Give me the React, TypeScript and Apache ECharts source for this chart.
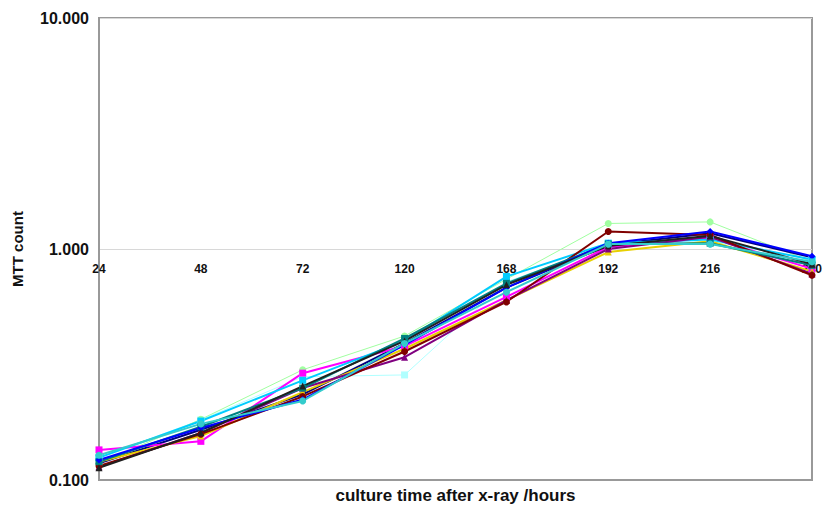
import React, { useEffect, useRef } from "react";
import * as echarts from "echarts";

const categories = ["24", "48", "72", "120", "168", "192", "216", "240"];

const navy = [0.118, 0.165, 0.235, 0.39, 0.68, 1.04, 1.17, 0.92];
const magenta = [0.135, 0.147, 0.29, 0.38, 0.62, 1.02, 1.12, 0.82];
const yellow = [0.12, 0.155, 0.24, 0.37, 0.6, 0.97, 1.08, 0.8];
const cyan = [0.125, 0.18, 0.27, 0.4, 0.76, 1.06, 1.1, 0.9];
const purple = [0.114, 0.16, 0.25, 0.34, 0.6, 1.0, 1.13, 0.78];
const maroon = [0.115, 0.158, 0.23, 0.36, 0.59, 1.19, 1.15, 0.77];
const teal = [0.12, 0.17, 0.25, 0.41, 0.71, 1.05, 1.06, 0.85];
const blue = [0.122, 0.168, 0.223, 0.385, 0.68, 1.06, 1.19, 0.93];
const lightGreen = [0.118, 0.183, 0.3, 0.42, 0.74, 1.29, 1.31, 0.88];
const lightCyan = [0.125, 0.182, 0.28, 0.285, 0.72, 1.04, 1.08, 0.9];
const black = [0.113, 0.16, 0.255, 0.4, 0.7, 1.03, 1.14, 0.86];
const skyBlue = [0.128, 0.175, 0.22, 0.39, 0.65, 1.05, 1.05, 0.88];

const seriesDefs = [
  { name: "s10", data: lightCyan, color: "#B0FFFF", symbol: "rect", width: 1 },
  { name: "s9", data: lightGreen, color: "#A0FFA0", symbol: "circle", width: 1 },
  { name: "s1", data: navy, color: "#000080", symbol: "diamond", width: 2 },
  { name: "s2", data: magenta, color: "#FF00FF", symbol: "rect", width: 2 },
  { name: "s3", data: yellow, color: "#E8D000", symbol: "triangle", width: 2 },
  { name: "s4", data: cyan, color: "#00CCFF", symbol: "rect", width: 2 },
  { name: "s5", data: purple, color: "#800080", symbol: "triangle", width: 2 },
  { name: "s6", data: maroon, color: "#800000", symbol: "circle", width: 2 },
  { name: "s7", data: teal, color: "#008080", symbol: "rect", width: 2 },
  { name: "s8", data: blue, color: "#0000FF", symbol: "diamond", width: 2 },
  { name: "s11", data: black, color: "#202020", symbol: "triangle", width: 2 },
  { name: "s12", data: skyBlue, color: "#33CCCC", symbol: "circle", width: 2 },
];

export default function App() {
  const ref = useRef<HTMLDivElement>(null);
  useEffect(() => {
    document.body.style.margin = "0";
    if (!ref.current) return;
    const chart = echarts.init(ref.current, null, { renderer: "svg" });
    const font = "'Liberation Sans', Arial, sans-serif";
    chart.setOption({
      animation: false,
      backgroundColor: "#ffffff",
      grid: {
        left: 99,
        right: 5,
        top: 18,
        bottom: 26,
        show: true,
        borderColor: "#999999",
        borderWidth: 2,
      },
      xAxis: {
        type: "category",
        data: categories,
        boundaryGap: false,
        z: 3,
        axisLine: { show: true, lineStyle: { color: "#999999", width: 2 } },
        axisTick: { show: false },
        splitLine: { show: false },
        axisLabel: {
          margin: -217,
          fontFamily: font,
          fontWeight: "bold",
          fontSize: 12,
          color: "#111111",
          interval: 0,
        },
        name: "culture time after x-ray /hours",
        nameLocation: "middle",
        nameGap: 7,
        nameTextStyle: {
          fontFamily: font,
          fontWeight: "bold",
          fontSize: 17,
          color: "#111111",
          verticalAlign: "top",
        },
      },
      yAxis: {
        type: "log",
        logBase: 10,
        min: 0.1,
        max: 10,
        axisLine: { show: true, lineStyle: { color: "#999999", width: 2 } },
        axisTick: { show: false },
        splitLine: { show: true, lineStyle: { color: "#d8d8d8", width: 1 } },
        axisLabel: {
          formatter: (v: number) => v.toFixed(3),
          fontFamily: font,
          fontWeight: "bold",
          fontSize: 16,
          color: "#111111",
          margin: 10,
        },
        name: "MTT count",
        nameLocation: "middle",
        nameGap: 74,
        nameTextStyle: {
          fontFamily: font,
          fontWeight: "bold",
          fontSize: 15,
          color: "#111111",
        },
      },
      series: seriesDefs.map((s) => ({
        name: s.name,
        type: "line",
        data: s.data,
        symbol: s.symbol,
        symbolSize: 7,
        lineStyle: { color: s.color, width: s.width },
        itemStyle: { color: s.color },
      })),
    });
    return () => chart.dispose();
  }, []);
  return <div ref={ref} style={{ width: 825, height: 509 }} />;
}
